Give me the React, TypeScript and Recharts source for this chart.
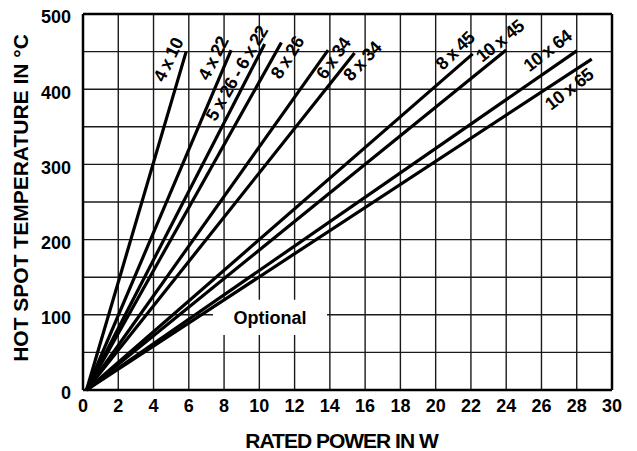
import React from "react";
import {
  LineChart,
  Line,
  XAxis,
  YAxis,
  CartesianGrid,
  ReferenceLine,
  ReferenceArea,
  ReferenceDot,
  Label,
} from "recharts";

// resistor sizes, one straight curve each from the origin up to its rated point
const sizes = ["4 x 10", "4 x 22", "5 x 26 - 6 x 22", "8 x 26", "6 x 34", "8 x 34", "8 x 45", "10 x 45", "10 x 64", "10 x 65"];
const startPower = [0.2, 0.2, 0.2, 0.2, 0.2, 0.2, 0.2, 0.2, 0.2, 0.2];
const startTemp = [0, 0, 0, 0, 0, 0, 0, 0, 0, 0];
const endPower = [5.85, 8.4, 10.3, 11.25, 13.9, 15.4, 22.1, 24.0, 28.0, 28.85];
const endTemp = [450, 452, 460, 462, 452, 448, 447, 452, 451, 440];

// where each size label sits (data units) and its tilt
const labelPower = [4.84, 7.39, 8.72, 11.59, 14.2, 15.84, 21.1, 23.65, 26.34, 27.57];
const labelTemp = [439, 441, 421, 442, 441, 437, 451, 464, 451, 400];
const labelAngle = [-64, -63, -60, -58, -55, -47, -44, -39, -38, -38];

const powerTicks = [0, 2, 4, 6, 8, 10, 12, 14, 16, 18, 20, 22, 24, 26, 28, 30];
const tempTicks = [0, 50, 100, 150, 200, 250, 300, 350, 400, 450, 500];

const FONT = "'Liberation Sans', Arial, Helvetica, sans-serif";

const series = sizes.map((name, i) => ({
  name,
  data: [
    { p: startPower[i], t: startTemp[i] },
    { p: endPower[i], t: endTemp[i] },
  ],
}));

export default function App() {
  return (
    <div style={{ position: "absolute", left: 0, top: 0, background: "#fff" }}>
      <LineChart width={637} height={451} margin={{ top: 14, right: 25, left: 0, bottom: 0 }}>
        <CartesianGrid stroke="#1a1a1a" strokeWidth={1.4} />
        <XAxis
          type="number"
          dataKey="p"
          domain={[0, 30]}
          ticks={powerTicks}
          height={61}
          tickSize={0}
          tickMargin={9}
          axisLine={{ stroke: "#000", strokeWidth: 2.5 }}
          tick={{ fill: "#000", fontSize: 18, fontWeight: 700, fontFamily: FONT }}
          label={
            <Label
              content={({ viewBox }: any) => (
                <text
                  x={viewBox.x + viewBox.width / 2 - 6}
                  y={viewBox.y + viewBox.height - 3}
                  textAnchor="middle"
                  fontSize={21}
                  fontWeight={700}
                  fontFamily={FONT}
                  letterSpacing={-1}
                  fill="#000"
                >
                  RATED POWER IN W
                </text>
              )}
            />
          }
        />
        <YAxis
          type="number"
          domain={[0, 500]}
          ticks={tempTicks}
          width={83}
          tickSize={0}
          tickMargin={12}
          interval={0}
          tickFormatter={(v) => (v % 100 === 0 ? String(v) : "")}
          axisLine={{ stroke: "#000", strokeWidth: 2.5 }}
          tick={{ fill: "#000", fontSize: 18, fontWeight: 700, fontFamily: FONT, dy: 3 }}
          label={
            <Label
              content={({ viewBox }: any) => {
                const cx = 20;
                const cy = viewBox.y + viewBox.height / 2 - 4;
                return (
                  <text
                    x={cx}
                    y={cy}
                    transform={`rotate(-90 ${cx} ${cy})`}
                    textAnchor="middle"
                    dominantBaseline="central"
                    fontSize={21}
                    fontWeight={700}
                    fontFamily={FONT}
                    fill="#000"
                  >
                    HOT SPOT TEMPERATURE IN °C
                  </text>
                );
              }}
            />
          }
        />
        <ReferenceLine y={500} stroke="#000" strokeWidth={2.5} />
        <ReferenceLine x={30} stroke="#000" strokeWidth={2.5} />
        <ReferenceArea
          x1={7.37}
          x2={13.84}
          y1={73}
          y2={120}
          fill="#fff"
          fillOpacity={1}
          stroke="none"
          label={{
            value: "Optional",
            position: "center",
            fill: "#000",
            fontSize: 18,
            fontWeight: 700,
            fontFamily: FONT,
          }}
        />
        {series.map((s) => (
          <Line
            key={s.name}
            data={s.data}
            dataKey="t"
            type="linear"
            stroke="#000"
            strokeWidth={3.2}
            dot={false}
            activeDot={false}
            isAnimationActive={false}
          />
        ))}
        {sizes.map((name, i) => (
          <ReferenceDot
            key={"lbl" + name}
            x={labelPower[i]}
            y={labelTemp[i]}
            r={0}
            ifOverflow="visible"
            shape={(p: any) => (
              <text
                x={p.cx}
                y={p.cy}
                transform={`rotate(${labelAngle[i]} ${p.cx} ${p.cy})`}
                textAnchor="middle"
                dominantBaseline="central"
                fontSize={18}
                fontWeight={700}
                fontFamily={FONT}
                letterSpacing={-0.7}
                fill="#000"
              >
                {name}
              </text>
            )}
          />
        ))}
      </LineChart>
    </div>
  );
}
